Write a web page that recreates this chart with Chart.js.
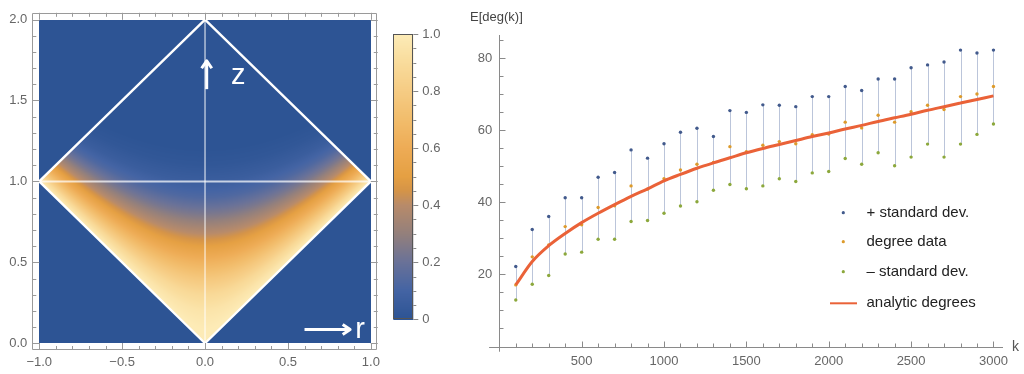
<!DOCTYPE html>
<html><head><meta charset="utf-8">
<script src="https://cdn.jsdelivr.net/npm/chart.js@4.4.1/dist/chart.umd.min.js"></script>
<style>
html,body{margin:0;padding:0;background:#fff;width:1024px;height:374px;overflow:hidden;}
canvas{position:absolute;top:0;}
#c1{left:0}#c2{left:385px}#c3{left:460px}
</style></head><body>
<canvas id="c1" width="385" height="374"></canvas>
<canvas id="c2" width="75" height="374"></canvas>
<canvas id="c3" width="564" height="374"></canvas>
<script>
// ---------- data: right panel ----------
const kValues = [100,200,300,400,500,600,700,800,900,1000,1100,1200,1300,1400,1500,1600,1700,1800,1900,2000,2100,2200,2300,2400,2500,2600,2700,2800,2900,3000];
const upperDev = [22.2,32.5,36.1,41.3,41.3,47.0,48.3,54.6,52.3,56.3,59.5,60.6,58.3,65.5,65.0,67.1,67.0,66.6,69.4,69.4,72.2,71.1,74.3,74.3,77.4,78.2,79.0,82.3,81.5,82.3];
const degreeData = [17.1,24.9,28.2,33.3,33.8,38.6,39.1,44.6,43.7,46.6,49.0,50.6,51.1,55.5,54.1,55.9,56.9,56.3,58.8,59.0,62.3,60.7,64.2,62.3,65.2,67.0,65.8,69.4,70.1,72.2];
const lowerDev = [12.9,17.3,19.7,25.7,26.2,29.8,29.8,34.7,35.0,37.0,39.0,40.2,43.4,45.0,43.8,44.6,46.6,45.8,48.2,48.6,52.2,50.6,53.8,50.2,52.6,56.2,52.6,56.2,58.9,61.8];
const analyticDegrees = [17.1,23.6,28.0,31.4,34.4,37.0,39.4,41.7,43.8,46.0,47.8,49.5,51.0,52.4,53.8,55.0,56.1,57.2,58.3,59.3,60.4,61.4,62.5,63.5,64.5,65.6,66.6,67.6,68.6,69.6];
const seriesLabels = ['+ standard dev.','degree data','\u2013 standard dev.','analytic degrees'];
const kTicks = [500,1000,1500,2000,2500,3000];
const degTicks = [20,40,60,80];
const yAxisTitle = 'E[deg(k)]';
const xAxisTitle = 'k';

// ---------- data: left panel ----------
const rTicks = [-1,-0.5,0,0.5,1];
const zTicks = [0,0.5,1,1.5,2];
const colorbarTicks = [0,0.2,0.4,0.6,0.8,1];
// density read along the r=0 axis, as function of proper time tau
const tauSamples     = [0,   0.1,  0.2,  0.3,  0.4,  0.5,  0.6, 0.7,  0.8,  0.9,  1.0,  1.1,  1.2, 2.0];
const densityProfile = [1.0, 0.99, 0.95, 0.88, 0.77, 0.64, 0.5, 0.37, 0.24, 0.13, 0.06, 0.02, 0.0, 0.0];
const paletteStops  = [0, 0.1, 0.2, 0.3, 0.4, 0.45, 0.5, 0.6, 0.7, 0.8, 0.9, 1.0];
const paletteColors = ['#2d5494','#4464a4','#6a7298','#94807c','#b88b6a','#d59448','#e5a043','#eeac56','#f2bd6c','#f6cc84','#f9dc9c','#fdecb8'];

Chart.defaults.font.family = "'Liberation Sans', Arial, sans-serif";
Chart.defaults.font.size = 13;
Chart.defaults.color = '#666';

function hex(c){return [parseInt(c.slice(1,3),16),parseInt(c.slice(3,5),16),parseInt(c.slice(5,7),16)];}
const palRGB = paletteColors.map(hex);
function colorAt(v){
  v=Math.max(0,Math.min(1,v));
  for(let i=1;i<paletteStops.length;i++){
    if(v<=paletteStops[i]){
      const t=(v-paletteStops[i-1])/(paletteStops[i]-paletteStops[i-1]);
      const a=palRGB[i-1],b=palRGB[i];
      return [a[0]+(b[0]-a[0])*t,a[1]+(b[1]-a[1])*t,a[2]+(b[2]-a[2])*t];
    }
  }
  return palRGB[palRGB.length-1];
}
function profileAt(tau){
  for(let i=1;i<tauSamples.length;i++){
    if(tau<=tauSamples[i]){
      const t=(tau-tauSamples[i-1])/(tauSamples[i]-tauSamples[i-1]);
      return densityProfile[i-1]+(densityProfile[i]-densityProfile[i-1])*t;
    }
  }
  return 0;
}

// ---------- left: density plot ----------
function arrow(ctx,x1,y1,x2,y2){
  ctx.beginPath();ctx.moveTo(x1,y1);ctx.lineTo(x2,y2);ctx.stroke();
  const a=Math.atan2(y2-y1,x2-x1), L=9;
  ctx.beginPath();
  ctx.moveTo(x2-L*Math.cos(a-0.6),y2-L*Math.sin(a-0.6));
  ctx.lineTo(x2,y2);
  ctx.lineTo(x2-L*Math.cos(a+0.6),y2-L*Math.sin(a+0.6));
  ctx.stroke();
}
const densityPlugin = {
  id:'density',
  afterDraw(chart){
    const ctx=chart.ctx, xs=chart.scales.x, ys=chart.scales.y, ca=chart.chartArea;
    const x0=Math.round(xs.getPixelForValue(-1)), x1=Math.round(xs.getPixelForValue(1));
    const y0=Math.round(ys.getPixelForValue(2)), y1=Math.round(ys.getPixelForValue(0));
    const w=x1-x0, h=y1-y0;
    const img=ctx.createImageData(w,h);
    for(let j=0;j<h;j++){
      const z=ys.getValueForPixel(y0+j+0.5);
      for(let i=0;i<w;i++){
        const r=xs.getValueForPixel(x0+i+0.5);
        const ar=Math.abs(r);
        let v=0;
        if(ar<=z && ar<=2-z) v=profileAt(Math.sqrt(Math.max(0,z*z-r*r)));
        const c=colorAt(v), k=(j*w+i)*4;
        img.data[k]=c[0];img.data[k+1]=c[1];img.data[k+2]=c[2];img.data[k+3]=255;
      }
    }
    ctx.putImageData(img,x0,y0);
    const P=(r,z)=>[xs.getPixelForValue(r),ys.getPixelForValue(z)];
    ctx.save();
    ctx.lineCap='round';ctx.lineJoin='round';
    ctx.strokeStyle='rgba(255,255,255,0.72)';ctx.lineWidth=2;
    ctx.beginPath();ctx.moveTo(...P(-1,1));ctx.lineTo(...P(1,1));ctx.stroke();
    ctx.strokeStyle='rgba(255,255,255,0.6)';ctx.lineWidth=1.6;
    ctx.beginPath();ctx.moveTo(...P(0,0));ctx.lineTo(...P(0,2));ctx.stroke();
    ctx.strokeStyle='#ffffff';ctx.lineWidth=2.4;
    ctx.beginPath();ctx.moveTo(...P(0,0));ctx.lineTo(...P(1,1));ctx.lineTo(...P(0,2));ctx.lineTo(...P(-1,1));ctx.closePath();ctx.stroke();
    ctx.strokeStyle='#ffffff';ctx.lineWidth=3;ctx.lineCap='butt';
    arrow(ctx,...P(0.01,1.57),...P(0.01,1.745));
    arrow(ctx,...P(0.6,0.085),...P(0.875,0.085));
    ctx.fillStyle='#ffffff';ctx.font="29px 'Liberation Sans', Arial, sans-serif";
    ctx.textAlign='center';ctx.textBaseline='alphabetic';
    ctx.fillText('z',...P(0.2,1.6));
    ctx.fillText('r',...P(0.935,0.035));
    ctx.strokeStyle='#9a9a9a';ctx.lineWidth=1;
    ctx.strokeRect(Math.round(ca.left)+0.5,Math.round(ca.top)+0.5,Math.round(ca.right-ca.left)-1,Math.round(ca.bottom-ca.top)-1);
    ctx.beginPath();
    for(let i=-10;i<=10;i++){
      const v=i/10, major=(i%5===0), L=major?7:4;
      const px=Math.round(xs.getPixelForValue(v))+0.5;
      ctx.moveTo(px,ca.bottom);ctx.lineTo(px,ca.bottom-L);
      ctx.moveTo(px,ca.top);ctx.lineTo(px,ca.top+L);
    }
    for(let i=0;i<=20;i++){
      const v=i/10, major=(i%5===0), L=major?7:4;
      const py=Math.round(ys.getPixelForValue(v))+0.5;
      ctx.moveTo(ca.left,py);ctx.lineTo(ca.left+L,py);
      ctx.moveTo(ca.right,py);ctx.lineTo(ca.right-L,py);
    }
    ctx.stroke();
    ctx.restore();
  }
};
const fmt1 = v => (v<0?'\u2212':'')+Math.abs(v).toFixed(1);
new Chart(document.getElementById('c1'),{
  type:'scatter',
  data:{datasets:[]},
  options:{
    responsive:false,animation:false,
    layout:{autoPadding:false,padding:{top:3,right:6,left:0,bottom:0}},
    plugins:{legend:{display:false},tooltip:{enabled:false}},
    scales:{
      x:{type:'linear',min:-1.0417,max:1.0417,grid:{display:false,drawTicks:false},border:{display:false},
         afterBuildTicks:s=>{s.ticks=rTicks.map(v=>({value:v}));},
         afterFit:s=>{s.height=24;},
         ticks:{padding:5,maxRotation:0,callback:v=>fmt1(v)}},
      y:{type:'linear',min:-0.0417,max:2.0417,grid:{display:false,drawTicks:false},border:{display:false},
         afterBuildTicks:s=>{s.ticks=zTicks.map(v=>({value:v}));},
         afterFit:s=>{s.width=32.3;},
         ticks:{padding:5,callback:v=>fmt1(v)}}
    }
  },
  plugins:[densityPlugin]
});

// ---------- colorbar ----------
const cbPlugin = {
  id:'cb',
  afterDraw(chart){
    const ctx=chart.ctx, ys=chart.scales.y, ca=chart.chartArea;
    for(let py=Math.floor(ca.top);py<Math.ceil(ca.bottom);py++){
      const c=colorAt(ys.getValueForPixel(py+0.5));
      ctx.fillStyle=`rgb(${c[0]|0},${c[1]|0},${c[2]|0})`;
      ctx.fillRect(ca.left,py,ca.right-ca.left,1);
    }
    ctx.strokeStyle='#555';ctx.lineWidth=1;
    ctx.strokeRect(Math.round(ca.left)+0.5,Math.round(ca.top)+0.5,Math.round(ca.right-ca.left)-1,Math.round(ca.bottom-ca.top)-1);
    ctx.strokeStyle='#888';
    ctx.beginPath();
    for(let i=0;i<=20;i++){
      const v=i/20, major=(i%4===0), L=major?5:3;
      const py=Math.round(ys.getPixelForValue(v))+0.5;
      ctx.moveTo(ca.right,py);ctx.lineTo(ca.right+L,py);
    }
    ctx.stroke();
  }
};
new Chart(document.getElementById('c2'),{
  type:'scatter',
  data:{datasets:[]},
  options:{
    responsive:false,animation:false,
    layout:{autoPadding:false,padding:{top:34,left:8.3,right:0,bottom:54.7}},
    plugins:{legend:{display:false},tooltip:{enabled:false}},
    scales:{
      x:{display:false},
      y:{type:'linear',position:'right',min:0,max:1,grid:{display:false,drawTicks:false},border:{display:false},
         afterBuildTicks:s=>{s.ticks=colorbarTicks.map(v=>({value:v}));},
         afterFit:s=>{s.width=46.7;},
         ticks:{padding:9,callback:v=>v===0?'0':v.toFixed(1)}}
    }
  },
  plugins:[cbPlugin]
});

// ---------- right: degree chart ----------
const pts = arr => kValues.map((k,i)=>({x:k,y:arr[i]}));
const colUpper='#425a8c', colMean='#dd9b2c', colLower='#8ca83c', colLine='#ea6238';
const axesPlugin = {
  id:'axes',
  beforeDatasetsDraw(chart){
    const ctx=chart.ctx, xs=chart.scales.x, ys=chart.scales.y;
    const X=v=>xs.getPixelForValue(v), Y=v=>ys.getPixelForValue(v);
    ctx.save();
    ctx.strokeStyle='rgba(175,187,212,0.85)';ctx.lineWidth=1;
    ctx.beginPath();
    kValues.forEach((k,i)=>{const px=Math.round(X(k))+0.5;ctx.moveTo(px,Y(lowerDev[i]));ctx.lineTo(px,Y(upperDev[i]));});
    ctx.stroke();
    ctx.strokeStyle='#8a8a8a';ctx.lineWidth=1;
    const ax=Math.round(X(0))+0.5, ay=Math.round(Y(0))+0.5;
    ctx.beginPath();
    ctx.moveTo(X(-62),ay);ctx.lineTo(X(3058),ay);
    ctx.moveTo(ax,Y(-1.45));ctx.lineTo(ax,Y(86.5));
    for(let k=100;k<=3000;k+=100){const px=Math.round(X(k))+0.5;const L=(k%500===0)?6:4;ctx.moveTo(px,ay);ctx.lineTo(px,ay-L);}
    for(let v=5;v<=85;v+=5){const py=Math.round(Y(v))+0.5;const L=(v%20===0)?6:4;ctx.moveTo(ax,py);ctx.lineTo(ax+L,py);}
    ctx.stroke();
    ctx.fillStyle='#444';ctx.font="13px 'Liberation Sans', Arial, sans-serif";
    ctx.textAlign='left';ctx.textBaseline='middle';
    ctx.fillText(yAxisTitle,10,17);
    ctx.fillStyle='#555';ctx.font="14px 'Liberation Sans', Arial, sans-serif";
    ctx.fillText(xAxisTitle,X(3058)+9,ay);
    ctx.restore();
  },
  afterDraw(chart){
    const ctx=chart.ctx;
    ctx.save();
    const rows=[212.7,241.7,271.7,303.3];
    const cols=[colUpper,colMean,colLower,colLine];
    ctx.font="15px 'Liberation Sans', Arial, sans-serif";
    ctx.textAlign='left';ctx.textBaseline='middle';
    for(let i=0;i<4;i++){
      const y=rows[i];
      if(i<3){ctx.fillStyle=cols[i];ctx.beginPath();ctx.arc(843.3-460,y,1.6,0,Math.PI*2);ctx.fill();}
      else{ctx.strokeStyle=colLine;ctx.lineWidth=2;ctx.beginPath();ctx.moveTo(830-460,y);ctx.lineTo(857-460,y);ctx.stroke();}
      ctx.fillStyle='#222';
      ctx.fillText(chart.data.datasets[i].label,866.5-460,y);
    }
    ctx.restore();
  }
};
new Chart(document.getElementById('c3'),{
  type:'scatter',
  data:{datasets:[
    {label:seriesLabels[0],data:pts(upperDev),backgroundColor:colUpper,borderColor:colUpper,pointRadius:1.7,pointBorderWidth:0},
    {label:seriesLabels[1],data:pts(degreeData),backgroundColor:colMean,borderColor:colMean,pointRadius:1.7,pointBorderWidth:0},
    {label:seriesLabels[2],data:pts(lowerDev),backgroundColor:colLower,borderColor:colLower,pointRadius:1.7,pointBorderWidth:0},
    {label:seriesLabels[3],data:pts(analyticDegrees),showLine:true,borderColor:colLine,borderWidth:3,pointRadius:0,cubicInterpolationMode:'monotone',order:-1}
  ]},
  options:{
    responsive:false,animation:false,
    layout:{autoPadding:false,padding:{top:35,right:21,left:0,bottom:0}},
    plugins:{legend:{display:false},tooltip:{enabled:false}},
    scales:{
      x:{type:'linear',min:0,max:3058,grid:{display:false,drawTicks:false},border:{display:false},
         afterBuildTicks:s=>{s.ticks=kTicks.map(v=>({value:v}));},
         afterFit:s=>{s.height=27.5;},
         ticks:{padding:7,maxRotation:0,callback:v=>String(v)}},
      y:{type:'linear',min:0,max:86.5,grid:{display:false,drawTicks:false},border:{display:false},
         afterBuildTicks:s=>{s.ticks=degTicks.map(v=>({value:v}));},
         afterFit:s=>{s.width=39.3;},
         ticks:{padding:7,callback:v=>String(v)}}
    }
  },
  plugins:[axesPlugin]
});
</script>
</body></html>
